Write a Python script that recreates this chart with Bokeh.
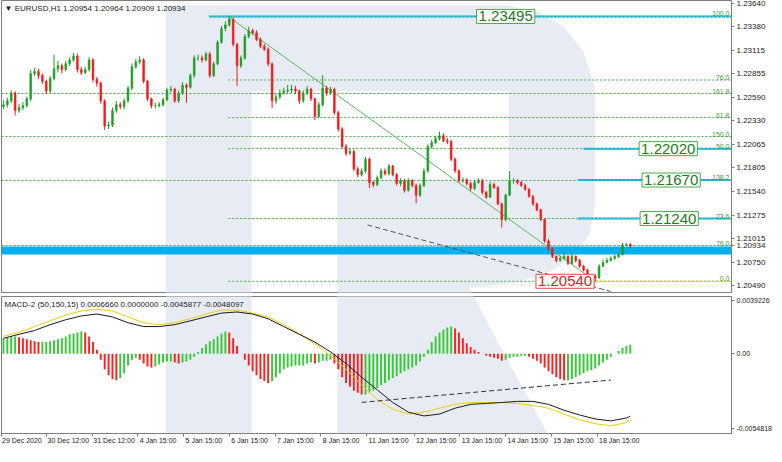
from bokeh.plotting import figure
from bokeh.models import (Range1d, FixedTicker, PrintfTickFormatter, Label, ColumnDataSource,
                          CustomJSTickFormatter, LinearAxis)
from bokeh.layouts import column
from bokeh.embed import file_html
from bokeh.resources import INLINE

# ---------------- data (EURUSD, 2-hour steps) ----------------
first_open = 1.22490
closes = [
    1.22511, 1.22554, 1.22641, 1.22445, 1.22478, 1.22500, 1.22576, 1.22858, 1.22880, 1.22836,
    1.22771, 1.22663, 1.22804, 1.22912, 1.22945, 1.22902, 1.22967, 1.23010, 1.23054, 1.22902,
    1.22869, 1.22902, 1.23010, 1.22793, 1.22750, 1.22554, 1.22272, 1.22283, 1.22445, 1.22511,
    1.22489, 1.22554, 1.22695, 1.22934, 1.22988, 1.23010, 1.22771, 1.22576, 1.22500, 1.22500,
    1.22511, 1.22565, 1.22673, 1.22684, 1.22554, 1.22641, 1.22728, 1.22706, 1.22836, 1.23032,
    1.23032, 1.23010, 1.23075, 1.22836, 1.22967, 1.23206, 1.23358, 1.23401, 1.23466, 1.23184,
    1.22945, 1.23032, 1.23271, 1.23336, 1.23314, 1.23238, 1.23162, 1.23130, 1.22967, 1.22554,
    1.22597, 1.22641, 1.22663, 1.22673, 1.22684, 1.22663, 1.22554, 1.22641, 1.22684, 1.22576,
    1.22380, 1.22511, 1.22695, 1.22641, 1.22684, 1.22424, 1.22239, 1.22044, 1.21968, 1.21989,
    1.21794, 1.21729, 1.21772, 1.21902, 1.21642, 1.21620, 1.21696, 1.21772, 1.21740, 1.21826,
    1.21729, 1.21631, 1.21663, 1.21555, 1.21663, 1.21609, 1.21501, 1.21609, 1.21772, 1.22044,
    1.22087, 1.22130, 1.22163, 1.22109, 1.22098, 1.21902, 1.21772, 1.21663, 1.21674, 1.21631,
    1.21577, 1.21642, 1.21663, 1.21533, 1.21479, 1.21620, 1.21587, 1.21403, 1.21229, 1.21501,
    1.21663, 1.21663, 1.21642, 1.21609, 1.21566, 1.21490, 1.21403, 1.21338, 1.21229, 1.20990,
    1.20903, 1.20816, 1.20773, 1.20795, 1.20816, 1.20740, 1.20816, 1.20773, 1.20708, 1.20664,
    1.20578, 1.20599, 1.20578, 1.20708, 1.20751, 1.20773, 1.20795, 1.20816, 1.20838, 1.20947,
    1.20954, 1.20934]
highs = [
    1.2256, 1.2259, 1.2267, 1.2266, 1.2252, 1.2254, 1.2260, 1.2290, 1.2292, 1.2291,
    1.2286, 1.2279, 1.2283, 1.2307, 1.2300, 1.2297, 1.2300, 1.2304, 1.2309, 1.2308,
    1.2293, 1.2293, 1.2304, 1.2303, 1.2282, 1.2277, 1.2257, 1.2232, 1.2248, 1.2255,
    1.2254, 1.2258, 1.2272, 1.2297, 1.2302, 1.2305, 1.2303, 1.2279, 1.2259, 1.2253,
    1.2254, 1.2259, 1.2270, 1.2272, 1.2270, 1.2267, 1.2276, 1.2275, 1.2286, 1.2306,
    1.2307, 1.2306, 1.2310, 1.2310, 1.2299, 1.2323, 1.2339, 1.2344, 1.23495, 1.2348,
    1.2320, 1.2306, 1.2330, 1.2338, 1.2336, 1.2334, 1.2326, 1.2319, 1.2315, 1.2298,
    1.2263, 1.2268, 1.2270, 1.2273, 1.2273, 1.2272, 1.2268, 1.2267, 1.2272, 1.2270,
    1.2259, 1.2254, 1.2284, 1.2272, 1.2271, 1.2270, 1.2244, 1.2226, 1.2207, 1.2203,
    1.2201, 1.2182, 1.2180, 1.2193, 1.2192, 1.2166, 1.2172, 1.2180, 1.2180, 1.2185,
    1.2184, 1.2175, 1.2169, 1.2168, 1.2169, 1.2168, 1.2163, 1.2163, 1.2180, 1.2207,
    1.2212, 1.2216, 1.2221, 1.2219, 1.2214, 1.2212, 1.2192, 1.2179, 1.2170, 1.2169,
    1.2165, 1.2167, 1.2169, 1.2168, 1.2155, 1.2165, 1.2164, 1.2160, 1.2142, 1.2152,
    1.2177, 1.2169, 1.2168, 1.2166, 1.2163, 1.2158, 1.2150, 1.2142, 1.2135, 1.2124,
    1.2101, 1.2092, 1.2083, 1.2082, 1.2086, 1.2083, 1.2085, 1.2083, 1.2079, 1.2072,
    1.2068, 1.2062, 1.2062, 1.2073, 1.2078, 1.2080, 1.2082, 1.2084, 1.2086, 1.2097,
    1.20964, 1.20964]
lows = [
    1.2246, 1.2248, 1.2253, 1.2239, 1.2242, 1.2245, 1.2248, 1.2255, 1.2283, 1.2280,
    1.2274, 1.2263, 1.2264, 1.2278, 1.2287, 1.2286, 1.2288, 1.2294, 1.2299, 1.2287,
    1.2284, 1.2285, 1.2288, 1.2276, 1.2271, 1.2252, 1.2223, 1.2224, 1.2226, 1.2242,
    1.2246, 1.2246, 1.2253, 1.2267, 1.2291, 1.2296, 1.2275, 1.2255, 1.2247, 1.2247,
    1.2248, 1.2249, 1.2255, 1.2265, 1.2253, 1.2253, 1.2262, 1.2253, 1.2269, 1.2281,
    1.2300, 1.2298, 1.2299, 1.2281, 1.2282, 1.2295, 1.2319, 1.2333, 1.2338, 1.2316,
    1.2272, 1.2292, 1.2301, 1.2325, 1.2329, 1.2322, 1.2314, 1.2311, 1.2294, 1.2247,
    1.2252, 1.2257, 1.2262, 1.2263, 1.2264, 1.2263, 1.2252, 1.2253, 1.2262, 1.2255,
    1.2234, 1.2236, 1.2249, 1.2261, 1.2262, 1.2240, 1.2221, 1.2202, 1.2194, 1.2195,
    1.2177, 1.2170, 1.2171, 1.2175, 1.2158, 1.2159, 1.2160, 1.2168, 1.2172, 1.2172,
    1.2171, 1.2161, 1.2160, 1.2153, 1.2154, 1.2159, 1.2141, 1.2148, 1.2159, 1.2175,
    1.2202, 1.2207, 1.2211, 1.2209, 1.2207, 1.2188, 1.2175, 1.2164, 1.2164, 1.2161,
    1.2155, 1.2156, 1.2163, 1.2151, 1.2146, 1.2147, 1.2157, 1.2139, 1.2114, 1.2121,
    1.2149, 1.2163, 1.2162, 1.2159, 1.2155, 1.2147, 1.2138, 1.2132, 1.2121, 1.2097,
    1.2088, 1.2080, 1.2075, 1.2076, 1.2078, 1.2072, 1.2073, 1.2075, 1.2069, 1.2065,
    1.2056, 1.2057, 1.20540, 1.2057, 1.2070, 1.2074, 1.2076, 1.2078, 1.2080, 1.2083,
    1.2093, 1.20909]

hist = [
    0.00114, 0.00121, 0.00128, 0.00128, 0.00121, 0.00114, 0.00107, 0.00100, 0.00093, 0.00086,
    0.00086, 0.00086, 0.00093, 0.00100, 0.00107, 0.00114, 0.00128, 0.00143, 0.00150, 0.00157,
    0.00164, 0.00157, 0.00128, 0.00086, 0.00029, -0.00043, -0.00114, -0.00157, -0.00185, -0.00193,
    -0.00178, -0.00143, -0.00086, -0.00043, -0.00029, -0.00043, -0.00071, -0.00093, -0.00100, -0.00093,
    -0.00078, -0.00064, -0.00057, -0.00057, -0.00064, -0.00071, -0.00064, -0.00057, -0.00043, -0.00021,
    0.00014, 0.00043, 0.00071, 0.00093, 0.00107, 0.00128, 0.00150, 0.00164, 0.00157, 0.00114,
    0.00057, 0.00000, -0.00043, -0.00086, -0.00128, -0.00157, -0.00185, -0.00200, -0.00214, -0.00200,
    -0.00171, -0.00143, -0.00114, -0.00100, -0.00093, -0.00086, -0.00086, -0.00086, -0.00071, -0.00064,
    -0.00071, -0.00064, -0.00050, -0.00050, -0.00043, -0.00071, -0.00114, -0.00171, -0.00214, -0.00242,
    -0.00271, -0.00285, -0.00299, -0.00299, -0.00285, -0.00271, -0.00250, -0.00228, -0.00214, -0.00193,
    -0.00178, -0.00164, -0.00143, -0.00128, -0.00114, -0.00100, -0.00086, -0.00057, -0.00021, 0.00029,
    0.00086, 0.00128, 0.00157, 0.00178, 0.00193, 0.00200, 0.00185, 0.00157, 0.00114, 0.00078,
    0.00050, 0.00029, 0.00014, 0.00000, -0.00014, -0.00021, -0.00029, -0.00036, -0.00050, -0.00043,
    -0.00029, -0.00021, -0.00021, -0.00014, -0.00014, -0.00021, -0.00036, -0.00050, -0.00071, -0.00100,
    -0.00128, -0.00150, -0.00171, -0.00185, -0.00193, -0.00193, -0.00185, -0.00171, -0.00157, -0.00143,
    -0.00128, -0.00121, -0.00107, -0.00086, -0.00064, -0.00043, -0.00021, 0.00000, 0.00021, 0.00043,
    0.00057, 0.000666]

macd_idx = [0, 4, 8, 12, 16, 20, 24, 28, 32, 36, 40, 44, 48, 52, 56, 60, 64, 68, 72, 76, 80,
            84, 88, 92, 96, 100, 104, 108, 112, 116, 120, 124, 128, 132, 136, 140, 144, 148,
            152, 156, 160, 161]
macd_main = [0.00114, 0.00143, 0.00171, 0.00214, 0.00250, 0.00278, 0.00292, 0.00271, 0.00228,
             0.00200, 0.00200, 0.00214, 0.00242, 0.00271, 0.00299, 0.00307, 0.00292, 0.00257,
             0.00200, 0.00143, 0.00086, 0.00014, -0.00071, -0.00171, -0.00264, -0.00357,
             -0.00428, -0.00456, -0.00442, -0.00399, -0.00371, -0.00364, -0.00357, -0.00349,
             -0.00349, -0.00371, -0.00414, -0.00449, -0.00478, -0.00492, -0.00471, -0.0045877]
macd_signal = [0.00128, 0.00157, 0.00200, 0.00242, 0.00285, 0.00314, 0.00328, 0.00314, 0.00271,
               0.00228, 0.00214, 0.00228, 0.00257, 0.00292, 0.00321, 0.00321, 0.00299, 0.00271,
               0.00214, 0.00150, 0.00071, -0.00014, -0.00114, -0.00228, -0.00335, -0.00406,
               -0.00442, -0.00428, -0.00399, -0.00371, -0.00357, -0.00357, -0.00357, -0.00364,
               -0.00378, -0.00399, -0.00442, -0.00485, -0.00513, -0.00528, -0.00505, -0.0048097]

price_ticks = [1.23640, 1.23380, 1.23115, 1.22855, 1.22590, 1.22330, 1.22065,
               1.21805, 1.21540, 1.21275, 1.21015, 1.20750, 1.20490]
macd_ticks = [0.0039226, 0.0, -0.0054818]
date_ticks = [-0.5, 11, 22.75, 34.5, 46.25, 58, 69.75, 81.5, 93.25, 105.5, 117.25, 129, 140.75, 152.5]
date_labels = ["29 Dec 2020", "30 Dec 12:00", "31 Dec 12:00", "4 Jan 15:00", "5 Jan 15:00",
               "6 Jan 15:00", "7 Jan 15:00", "8 Jan 15:00", "11 Jan 15:00", "12 Jan 15:00",
               "13 Jan 15:00", "14 Jan 15:00", "15 Jan 15:00", "18 Jan 15:00"]

# Fibonacci retracement (anchored at the 1.23495 high and the 1.20540 low)
fib_start, fib_end = 57.75, 152
fib_levels = [1.23495, 1.22786, 1.22366, 1.22020, 1.21240, 1.20540]
fib_names = ["100.0", "76.0", "61.8", "50.0", "23.6", "0.0"]
# second (older) Fibonacci grid
fib2_levels = [1.22630, 1.22152, 1.21670, 1.20936]
fib2_names = ["161.8", "150.0", "138.2", "76.0"]
# target levels
target_levels = [1.23495, 1.22020, 1.21670, 1.21240]
target_names = ["1.23495", "1.22020", "1.21670", "1.21240"]
target_line_start = [52.75, 149, 147.5, 147.5]
target_box_x = [129, 170.75, 171.5, 171]
low_level, low_name, low_box_x = 1.20540, "1.20540", 144.25
band_lo, band_hi = 1.20844, 1.20931
last_price = 1.20934
trend_main = ([93.5, 156], [1.21169, 1.20426])
trend_macd = ([92, 156], [-0.003565, -0.001925])

# ---------------- style ----------------
FONT = "Liberation Sans"
GREEN, RED = "#1f9e26", "#f01c1c"
HGREEN, HRED = "#38c838", "#ff2020"
CYAN = "#00b0ef"
FIBC = "#4aa84a"
AXC = "#7f7f7f"
WM = "#e7ecf4"
W = 774
RB = 42
X0, X1 = -0.5, 187.0
P_LO, P_HI = 1.20415, 1.23673
M_LO, M_HI = -0.005847, 0.004207

# watermark "R" outline in panel-pixel space
wm_x = [171, 520, 552, 580, 600, 612, 612, 606, 590, 565, 530, 482, 563, 347, 347, 523, 523, 259, 259, 171]
wm_y = [10, 10, 16, 32, 58, 95, 215, 245, 268, 284, 295, 300, 450, 450, 190, 190, 98, 98, 450, 450]


def style_axis(ax, size="8px"):
    ax.axis_line_color = AXC
    ax.major_tick_line_color = AXC
    ax.major_tick_out = 3
    ax.major_tick_in = 0
    ax.minor_tick_out = 0
    ax.minor_tick_in = 0
    ax.major_label_standoff = 2
    ax.major_label_text_font = FONT
    ax.major_label_text_font_size = size
    ax.major_label_text_color = "#222222"


def make_fig(height, yr, bt, bb, pyr, xloc):
    f = figure(width=W, height=height, x_range=Range1d(X0, X1), y_range=yr,
               output_backend="svg", toolbar_location=None, y_axis_location="right",
               x_axis_location=xloc, min_border_left=1, min_border_right=RB,
               min_border_top=bt, min_border_bottom=bb, background_fill_color="white",
               border_fill_color="white", outline_line_color=AXC)
    f.extra_x_ranges = {"px": Range1d(2, 752)}
    f.extra_y_ranges = {"py": pyr}
    f.grid.visible = False
    f.patch(wm_x, wm_y, x_range_name="px", y_range_name="py", fill_color=WM, line_alpha=0)
    return f


# ---------------- main price panel ----------------
p = make_fig(294, Range1d(P_LO, P_HI), 0, 2, Range1d(305, 5), None)
style_axis(p.yaxis[0])
p.yaxis.ticker = FixedTicker(ticks=price_ticks + [last_price])
p.yaxis.formatter = PrintfTickFormatter(format="%.5f")

# horizontal band and level lines
p.hstrip(y0=[band_lo], y1=[band_hi], fill_color=CYAN, line_alpha=0)
for lv in fib2_levels:
    p.hspan(y=[lv], line_color=FIBC, line_dash="2 2", line_width=1)
p.hspan(y=[last_price], line_color="#9a9a9a", line_dash="2 2", line_width=1)
for lv in fib_levels:
    p.segment(x0=[fib_start], x1=[X1], y0=[lv], y1=[lv], line_color=FIBC, line_dash="2 2", line_width=1)
for lv, xs in zip(target_levels, target_line_start):
    p.segment(x0=[xs], x1=[X1], y0=[lv], y1=[lv], line_color=CYAN, line_width=2)
    p.segment(x0=[xs], x1=[X1], y0=[lv], y1=[lv], line_color="#f2d21b", line_dash="1 3", line_width=1)
p.segment(x0=[fib_end], x1=[X1], y0=[low_level], y1=[low_level], line_color="#f2d21b", line_dash="2 2", line_width=1.5)

# trend lines
p.line([fib_start, fib_end], [fib_levels[0], fib_levels[-1]], line_color="#5cb85c", line_width=1)
p.line(trend_main[0], trend_main[1], line_color="#555555", line_dash="5 3", line_width=1)

# candles
opens = [first_open] + closes[:-1]
n = len(closes)
cols = [GREEN if c >= o else RED for o, c in zip(opens, closes)]
src = ColumnDataSource(dict(x=list(range(n)), h=highs, l=lows,
                            top=[max(o, c) for o, c in zip(opens, closes)],
                            bot=[min(o, c) for o, c in zip(opens, closes)], col=cols))
p.segment(x0="x", x1="x", y0="l", y1="h", line_color="col", line_width=1, source=src)
p.vbar(x="x", top="top", bottom="bot", width=0.45, fill_color="col", line_color="col",
       line_width=0.6, source=src)

# level labels
for lv, nm in zip(fib_levels + fib2_levels, fib_names + fib2_names):
    p.add_layout(Label(x=X1, y=lv, x_offset=-2, y_offset=0, text=nm, text_align="right",
                       text_baseline="bottom", text_font=FONT, text_font_size="7px",
                       text_color="#3e9c3e"))
for lv, nm, bx in zip(target_levels, target_names, target_box_x):
    p.add_layout(Label(x=bx, y=lv, text=nm, text_align="center", text_baseline="middle",
                       text_font=FONT, text_font_size="15px", text_color="#1d7a1d",
                       background_fill_color="white", border_line_color="#4aa84a",
                       border_line_width=1, padding=2))
p.add_layout(Label(x=low_box_x, y=low_level, text=low_name, text_align="center",
                   text_baseline="middle", text_font=FONT, text_font_size="15px",
                   text_color="#e02020", background_fill_color="white",
                   border_line_color="#e24a4a", border_line_width=1, padding=2))
p.add_layout(Label(x=X0, y=P_HI, x_offset=3, y_offset=-3,
                   text="\u25BC EURUSD,H1  1.20954 1.20964 1.20909 1.20934",
                   text_align="left", text_baseline="top", text_font=FONT,
                   text_font_size="8px", text_color="#222222"))

# ---------------- MACD panel ----------------
m = make_fig(152, Range1d(M_LO, M_HI), 2, 0, Range1d(450, 309), "below")
style_axis(m.yaxis[0], "7px")
m.yaxis.ticker = FixedTicker(ticks=macd_ticks)
m.yaxis.formatter = CustomJSTickFormatter(code="return tick == 0 ? '0.00' : tick.toFixed(7)")

# date axis: tick marks at the bar, labels start just right of the tick
xa = m.xaxis[0]
style_axis(xa)
xa.ticker = FixedTicker(ticks=date_ticks)
xa.formatter = CustomJSTickFormatter(code="return ''")
xa.major_label_standoff = 0
xa.major_label_text_font_size = "1px"
px_per_bar = (W - 1 - RB) / (X1 - X0)
label_pos = [t + (len(s) * 3.35 / 2 + 2) / px_per_bar for t, s in zip(date_ticks, date_labels)]
xl = LinearAxis(ticker=FixedTicker(ticks=label_pos),
                formatter=CustomJSTickFormatter(args=dict(pos=label_pos, labels=date_labels),
                                                code="const i = pos.indexOf(tick); return i >= 0 ? labels[i] : ''"))
style_axis(xl, "7px")
xl.axis_line_color = None
xl.major_tick_out = 0
xl.major_label_standoff = 0
m.add_layout(xl, "below")

hcols = [HGREEN] + [HGREEN if hist[i] >= hist[i - 1] else HRED for i in range(1, n)]
hsrc = ColumnDataSource(dict(x=list(range(n)), v=hist, col=hcols))
m.vbar(x="x", top="v", bottom=0, width=0.5, fill_color="col", line_alpha=0, source=hsrc)
m.line(macd_idx, macd_signal, line_color="#f2cc0c", line_width=1)
m.line(macd_idx, macd_main, line_color="#1a1a1a", line_width=1)
m.line(trend_macd[0], trend_macd[1], line_color="#333333", line_dash="5 3", line_width=1)

m.add_layout(Label(x=X0, y=M_HI, x_offset=3, y_offset=-3,
                   text="MACD-2 (50,150,15) 0.0006660 0.0000000 -0.0045877 -0.0048097",
                   text_align="left", text_baseline="top", text_font=FONT,
                   text_font_size="8px", text_color="#222222"))

layout = column(p, m, spacing=0)
open("out.html", "w").write(file_html(layout, INLINE))
